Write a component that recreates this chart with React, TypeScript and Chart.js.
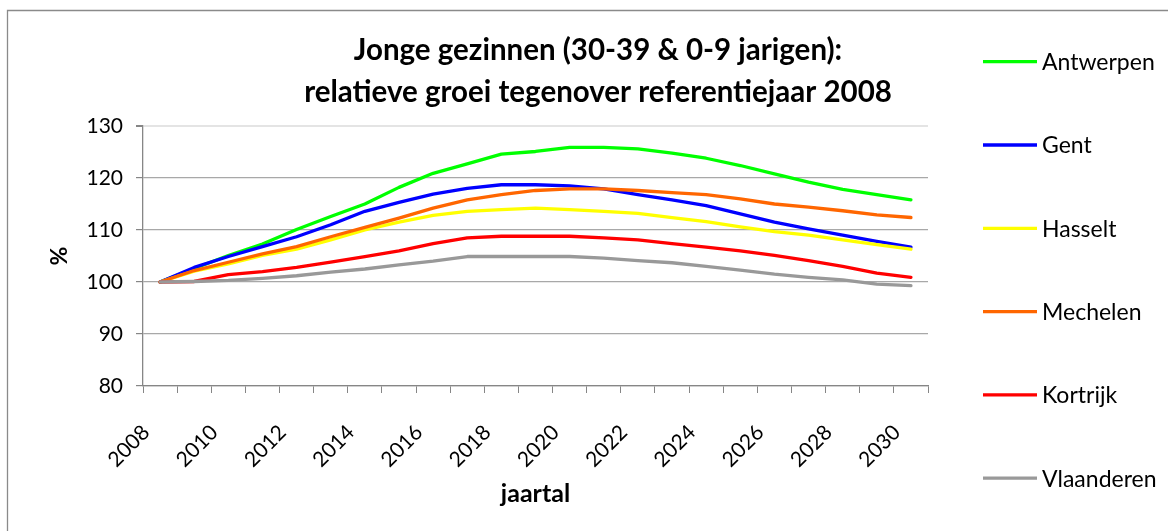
import React, { useEffect, useRef } from 'react';
import { Chart, registerables } from 'chart.js';

Chart.register(...registerables);

const FONT = 'Lato, "Open Sans", sans-serif';

const YEARS = [
  '2008', '2009', '2010', '2011', '2012', '2013', '2014', '2015', '2016', '2017', '2018', '2019',
  '2020', '2021', '2022', '2023', '2024', '2025', '2026', '2027', '2028', '2029', '2030',
];

const ANTWERPEN = [100, 102.6, 105.1, 107.3, 110.1, 112.6, 115.0, 118.2, 120.9, 122.7, 124.6, 125.1,
  125.9, 125.9, 125.6, 124.8, 123.8, 122.4, 120.8, 119.2, 117.8, 116.8, 115.8];
const GENT = [100, 102.8, 104.9, 106.8, 108.7, 111.0, 113.6, 115.3, 116.9, 118.0, 118.7, 118.7,
  118.5, 117.9, 116.8, 115.8, 114.7, 113.1, 111.5, 110.2, 109.0, 107.8, 106.7];
const HASSELT = [100, 102.1, 103.5, 105.1, 106.3, 108.1, 110.0, 111.5, 112.8, 113.6, 113.9, 114.2,
  113.9, 113.6, 113.2, 112.4, 111.6, 110.6, 109.7, 109.0, 108.1, 107.2, 106.3];
const MECHELEN = [100, 102.2, 103.8, 105.4, 106.8, 108.7, 110.5, 112.3, 114.2, 115.8, 116.8, 117.6,
  117.9, 117.9, 117.6, 117.2, 116.8, 116.0, 115.0, 114.4, 113.7, 112.9, 112.4];
const KORTRIJK = [100, 100.1, 101.4, 102.0, 102.8, 103.8, 104.9, 106.0, 107.4, 108.5, 108.8, 108.8,
  108.8, 108.5, 108.1, 107.4, 106.7, 106.0, 105.1, 104.1, 103.0, 101.7, 100.9];
const VLAANDEREN = [100, 100.1, 100.3, 100.7, 101.2, 101.9, 102.5, 103.3, 104.0, 104.9, 104.9, 104.9,
  104.9, 104.6, 104.1, 103.7, 103.0, 102.3, 101.5, 100.9, 100.4, 99.6, 99.3];

const SERIES_NAMES = ['Antwerpen', 'Gent', 'Hasselt', 'Mechelen', 'Kortrijk', 'Vlaanderen'];
const SERIES_VALUES = [ANTWERPEN, GENT, HASSELT, MECHELEN, KORTRIJK, VLAANDEREN];
const SERIES_COLORS = ['#00ff00', '#0000ff', '#ffff00', '#ff6600', '#ff0000', '#999999'];

const TITLE_LINES = ['Jonge gezinnen (30-39 & 0-9 jarigen):', 'relatieve groei tegenover referentiejaar 2008'];
const X_TITLE = 'jaartal';
const Y_TITLE = '%';
const Y_MIN = 80;
const Y_MAX = 130;
const Y_STEP = 10;

const W = 1168;
const H = 531;

const decorPlugin = {
  id: 'decor',
  beforeDraw(chart: any) {
    const ctx = chart.ctx;
    ctx.save();
    ctx.strokeStyle = '#8a8a8a';
    ctx.lineWidth = 1.3;
    ctx.beginPath();
    ctx.moveTo(7.5, H + 5);
    ctx.lineTo(7.5, 10.5);
    ctx.lineTo(W + 5, 10.5);
    ctx.stroke();
    ctx.restore();
  },
  afterDraw(chart: any) {
    const ctx = chart.ctx;
    ctx.save();
    // title
    ctx.fillStyle = '#000';
    ctx.textAlign = 'center';
    ctx.textBaseline = 'middle';
    ctx.font = `bold 29.5px ${FONT}`;
    TITLE_LINES.forEach((line, i) => ctx.fillText(line, 598, 50 + i * 42));
    // legend
    chart.data.datasets.forEach((ds: any, i: number) => {
      const y = 61.7 + i * 83.3;
      ctx.strokeStyle = ds.borderColor;
      ctx.lineWidth = 3.3;
      ctx.beginPath();
      ctx.moveTo(983, y);
      ctx.lineTo(1037, y);
      ctx.stroke();
      ctx.fillStyle = '#000';
      ctx.textAlign = 'left';
      ctx.textBaseline = 'middle';
      ctx.font = `23px ${FONT}`;
      ctx.fillText(ds.label, 1042, y + 1);
    });
    ctx.restore();
  },
};

export default function App() {
  const ref = useRef<HTMLCanvasElement | null>(null);

  useEffect(() => {
    if (!ref.current) return;
    const tickFont = { family: FONT, size: 21 };
    const chart = new Chart(ref.current, {
      type: 'line',
      data: {
        labels: YEARS,
        datasets: SERIES_NAMES.map((name, i) => ({
          label: name,
          data: SERIES_VALUES[i],
          borderColor: SERIES_COLORS[i],
          backgroundColor: SERIES_COLORS[i],
          borderWidth: 3.3,
          pointRadius: 0,
          pointHoverRadius: 0,
          tension: 0,
          fill: false,
          borderJoinStyle: 'round',
          borderCapStyle: 'round',
          order: SERIES_NAMES.length - i,
        })),
      },
      options: {
        responsive: false,
        animation: false,
        layout: { padding: { left: 0, right: W - 928, top: 126, bottom: 0 } },
        plugins: {
          legend: { display: false },
          title: { display: false },
          tooltip: { enabled: false },
        },
        scales: {
          x: {
            type: 'category',
            offset: true,
            grid: {
              offset: true,
              drawOnChartArea: false,
              drawTicks: true,
              tickLength: 7,
              color: '#868686',
              tickColor: '#868686',
            },
            border: { color: '#868686', width: 1.3 },
            ticks: {
              autoSkip: false,
              minRotation: 45,
              maxRotation: 45,
              labelOffset: -14,
              padding: 27,
              color: '#000',
              font: tickFont,
              callback: function (this: any, val: any, i: number) {
                return i % 2 === 0 ? this.getLabelForValue(val) : '';
              },
            },
            title: {
              display: true,
              text: X_TITLE,
              color: '#000',
              font: { family: FONT, size: 25, weight: 'bold' },
              padding: { top: 0, bottom: 22 },
            },
            afterFit: (s: any) => {
              s.height = H - 386;
            },
          },
          y: {
            min: Y_MIN,
            max: Y_MAX,
            ticks: { stepSize: Y_STEP, padding: 13, color: '#000', font: tickFont },
            grid: {
              color: (c: any) => (c.tick && c.tick.value === Y_MAX ? '#e4e4e4' : '#a8a8a8'),
              lineWidth: (c: any) => (c.tick && c.tick.value === Y_MAX ? 2 : 1.2),
              tickLength: 7,
              tickColor: '#868686',
            },
            border: { color: '#868686', width: 1.3 },
            title: {
              display: true,
              text: Y_TITLE,
              color: '#000',
              font: { family: FONT, size: 23, weight: 'bold' },
              padding: { top: 46, bottom: 0 },
            },
            afterFit: (s: any) => {
              s.width = 143;
            },
          },
        },
      },
      plugins: [decorPlugin],
    } as any);
    return () => chart.destroy();
  }, []);

  return (
    <div style={{ position: 'fixed', left: 0, top: 0, width: W, height: H, background: '#fff', overflow: 'hidden' }}>
      <canvas ref={ref} width={W} height={H} style={{ width: W, height: H, display: 'block' }} />
    </div>
  );
}
